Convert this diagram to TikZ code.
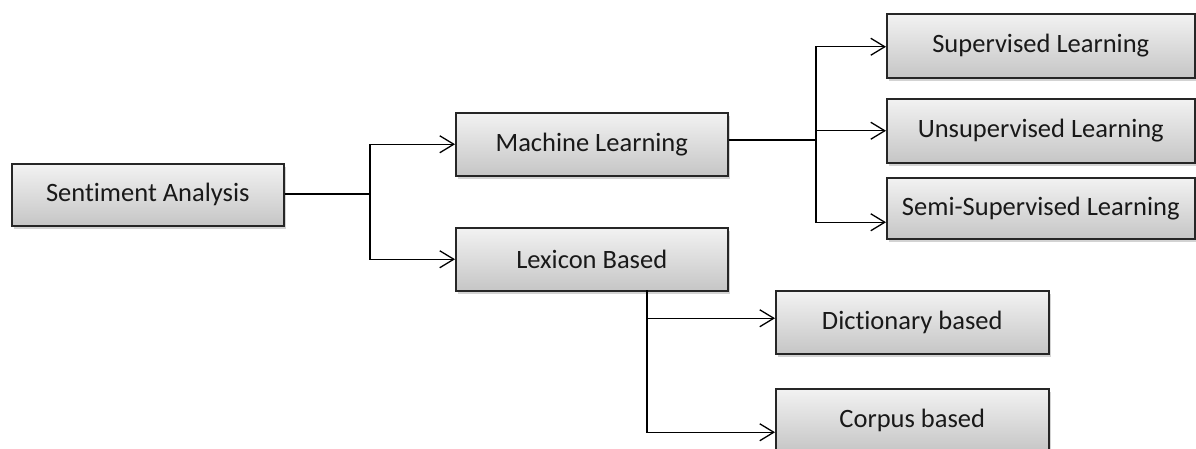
\documentclass[tikz,border=0pt]{standalone}
\usepackage{fontspec}
\setmainfont{Carlito}[Ligatures=NoCommon]
\usetikzlibrary{arrows.meta,shadows}
\begin{document}
\begin{tikzpicture}[x=1pt,y=-1pt,
  box/.style={draw=black!85,line width=1.5pt,rectangle,top color=gray!10,bottom color=gray!45,
    drop shadow={shadow xshift=2pt,shadow yshift=-3pt,opacity=0.35},
    font=\fontsize{26.5}{30}\selectfont,text=black!90,inner sep=0pt,anchor=north west},
  conn/.style={line width=1.3pt,black,-{Straight Barb[length=14pt,width=17pt,line width=1.3pt]}},
  line/.style={line width=1.3pt,black}]
\useasboundingbox (0,0) rectangle (1196,448);
\node[box,minimum width=272pt,minimum height=62pt] (sa) at (11,163) {Sentiment Analysis};
\node[box,minimum width=272pt,minimum height=63pt] (ml) at (455,112) {Machine Learning};
\node[box,minimum width=272pt,minimum height=63pt] (lb) at (455,227) {Lexicon Based};
\node[box,minimum width=308pt,minimum height=64pt] (sl) at (886,13) {Supervised Learning};
\node[box,minimum width=308pt,minimum height=64pt] (ul) at (886,98) {Unsupervised Learning};
\node[box,minimum width=308pt,minimum height=61pt] (ssl) at (886,177) {Semi-Supervised Learning};
\node[box,minimum width=273pt,minimum height=63pt] (db) at (775,290) {Dictionary based};
\node[box,minimum width=273pt,minimum height=63pt] (cb) at (775,388) {Corpus based};
\coordinate (j1) at (370,194);
\coordinate (j2) at (816,140);
\coordinate (j3) at (647,290);
\draw[line] (sa.east|-j1) -- (j1);
\draw[conn] (j1) |- (ml.west);
\draw[conn] (j1) |- (lb.west);
\draw[line] (ml.east|-j2) -- (j2);
\draw[conn] (j2) |- ([yshift=-1pt]sl.west);
\draw[conn] (j2) |- (ul.west);
\draw[conn] (j2) |- ([yshift=-14pt]ssl.west);
\draw[conn] (j3) |- ([yshift=4pt]db.west);
\draw[conn] (j3) |- ([yshift=-12pt]cb.west);
\end{tikzpicture}
\end{document}
